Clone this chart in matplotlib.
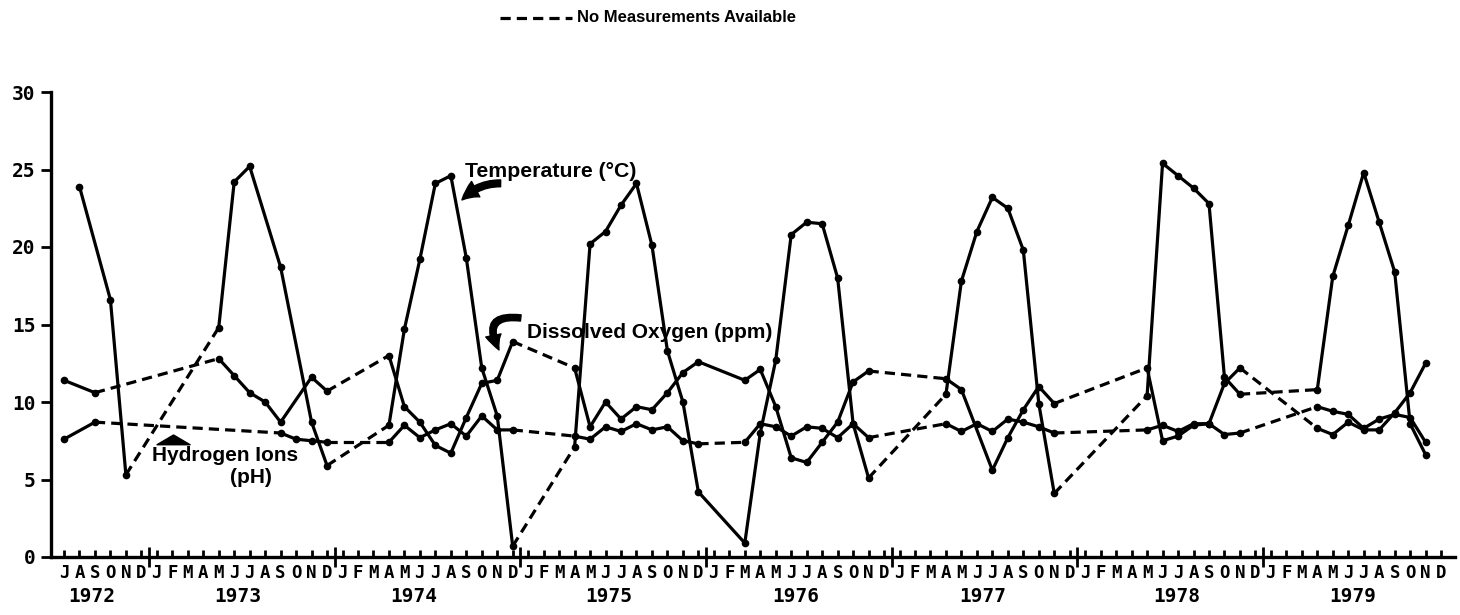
import matplotlib
matplotlib.use("Agg")
import matplotlib.pyplot as plt
from matplotlib.patches import FancyArrowPatch
from matplotlib.lines import Line2D
import matplotlib.transforms as mtransforms

# ---------------- data (month "YYYY-MM", value) ----------------
TEMP_MONTHS = ["1972-08", "1972-10", "1972-11",
               "1973-05", "1973-06", "1973-07", "1973-09", "1973-11", "1973-12",
               "1974-04", "1974-05", "1974-06", "1974-07", "1974-08", "1974-09", "1974-10", "1974-11", "1974-12",
               "1975-04", "1975-05", "1975-06", "1975-07", "1975-08", "1975-09", "1975-10", "1975-11", "1975-12",
               "1976-03", "1976-04", "1976-05", "1976-06", "1976-07", "1976-08", "1976-09", "1976-10", "1976-11",
               "1977-04", "1977-05", "1977-06", "1977-07", "1977-08", "1977-09", "1977-10", "1977-11",
               "1978-05", "1978-06", "1978-07", "1978-08", "1978-09", "1978-10", "1978-11",
               "1979-04", "1979-05", "1979-06", "1979-07", "1979-08", "1979-09", "1979-10", "1979-11"]
TEMP_VALUES = [23.9, 16.6, 5.3,
               14.8, 24.2, 25.2, 18.7, 8.7, 5.9,
               8.5, 14.7, 19.2, 24.1, 24.6, 19.3, 12.2, 9.1, 0.7,
               7.1, 20.2, 21.0, 22.7, 24.1, 20.1, 13.3, 10.0, 4.2,
               0.9, 8.0, 12.7, 20.8, 21.6, 21.5, 18.0, 8.6, 5.1,
               10.5, 17.8, 21.0, 23.2, 22.5, 19.8, 9.9, 4.1,
               10.4, 25.4, 24.6, 23.8, 22.8, 11.6, 10.5,
               10.8, 18.1, 21.4, 24.8, 21.6, 18.4, 8.6, 6.6]
TEMP_DASHED_AFTER = ["1972-11", "1973-12", "1974-12", "1976-11", "1977-11", "1978-11"]

DO_MONTHS = ["1972-07", "1972-09",
             "1973-05", "1973-06", "1973-07", "1973-08", "1973-09", "1973-11", "1973-12",
             "1974-04", "1974-05", "1974-06", "1974-07", "1974-08", "1974-09", "1974-10", "1974-11", "1974-12",
             "1975-04", "1975-05", "1975-06", "1975-07", "1975-08", "1975-09", "1975-10", "1975-11", "1975-12",
             "1976-03", "1976-04", "1976-05", "1976-06", "1976-07", "1976-08", "1976-09", "1976-10", "1976-11",
             "1977-04", "1977-05", "1977-07", "1977-08", "1977-09", "1977-10", "1977-11",
             "1978-05", "1978-06", "1978-07", "1978-08", "1978-09", "1978-10", "1978-11",
             "1979-04", "1979-05", "1979-06", "1979-07", "1979-08", "1979-09", "1979-10", "1979-11"]
DO_VALUES = [11.4, 10.6,
             12.8, 11.7, 10.6, 10.0, 8.7, 11.6, 10.7,
             13.0, 9.7, 8.7, 7.2, 6.7, 9.0, 11.2, 11.4, 13.9,
             12.2, 8.4, 10.0, 8.9, 9.7, 9.5, 10.6, 11.9, 12.6,
             11.4, 12.1, 9.7, 6.4, 6.1, 7.4, 8.7, 11.3, 12.0,
             11.5, 10.8, 5.6, 7.7, 9.5, 11.0, 9.9,
             12.2, 7.5, 7.8, 8.5, 8.6, 11.2, 12.2,
             8.3, 7.9, 8.7, 8.2, 8.2, 9.3, 10.6, 12.5]
DO_DASHED_AFTER = ["1972-09", "1973-12", "1974-12", "1976-11", "1977-11", "1978-11"]

PH_MONTHS = ["1972-07", "1972-09",
             "1973-09", "1973-10", "1973-11", "1973-12",
             "1974-04", "1974-05", "1974-06", "1974-07", "1974-08", "1974-09", "1974-10", "1974-11", "1974-12",
             "1975-04", "1975-05", "1975-06", "1975-07", "1975-08", "1975-09", "1975-10", "1975-11", "1975-12",
             "1976-03", "1976-04", "1976-05", "1976-06", "1976-07", "1976-08", "1976-09", "1976-10", "1976-11",
             "1977-04", "1977-05", "1977-06", "1977-07", "1977-08", "1977-09", "1977-10", "1977-11",
             "1978-05", "1978-06", "1978-07", "1978-08", "1978-09", "1978-10", "1978-11",
             "1979-04", "1979-05", "1979-06", "1979-07", "1979-08", "1979-09", "1979-10", "1979-11"]
PH_VALUES = [7.6, 8.7,
             8.0, 7.6, 7.5, 7.4,
             7.4, 8.5, 7.7, 8.2, 8.6, 7.8, 9.1, 8.2, 8.2,
             7.8, 7.6, 8.4, 8.1, 8.6, 8.2, 8.4, 7.5, 7.3,
             7.4, 8.6, 8.4, 7.8, 8.4, 8.3, 7.7, 8.6, 7.7,
             8.6, 8.1, 8.6, 8.1, 8.9, 8.7, 8.4, 8.0,
             8.2, 8.5, 8.1, 8.6, 8.6, 7.9, 8.0,
             9.7, 9.4, 9.2, 8.3, 8.9, 9.2, 9.0, 7.4]
PH_DASHED_AFTER = ["1972-09", "1973-12", "1974-12", "1975-12", "1976-11", "1977-11", "1978-11"]

MONTH_LETTERS = ["J", "A", "S", "O", "N", "D"] + ["J", "F", "M", "A", "M", "J", "J", "A", "S", "O", "N", "D"] * 7
YEAR_LABELS = ["1972", "1973", "1974", "1975", "1976", "1977", "1978", "1979"]
YEAR_LABEL_POS = [1.8, 11.25, 22.6, 35.2, 47.3, 59.4, 71.9, 83.3]
Y_TICKS = [0, 5, 10, 15, 20, 25, 30]


def midx(s):
    y, m = map(int, s.split("-"))
    return (y - 1972) * 12 + (m - 7)


W, H = 1460, 615
fig = plt.figure(figsize=(W / 100, H / 100), dpi=100)
ax = fig.add_axes([51 / W, 58 / H, (1455 - 51) / W, (557 - 92) / H])

LW = 2.3
DASH = (0, (3.2, 1.9))


def draw_series(months, values, dashed_after):
    xs = [midx(m) for m in months]
    dset = set(dashed_after)
    run_x, run_y = [xs[0]], [values[0]]
    for i in range(1, len(xs)):
        if months[i - 1] in dset:
            if len(run_x) > 1:
                ax.plot(run_x, run_y, color="black", lw=LW, solid_joinstyle="round", zorder=3)
            ax.plot([xs[i - 1], xs[i]], [values[i - 1], values[i]], color="black",
                    lw=LW, linestyle=DASH, zorder=3)
            run_x, run_y = [xs[i]], [values[i]]
        else:
            run_x.append(xs[i])
            run_y.append(values[i])
    if len(run_x) > 1:
        ax.plot(run_x, run_y, color="black", lw=LW, solid_joinstyle="round", zorder=3)
    ax.plot(xs, values, "o", color="black", ms=4.5, zorder=4)


draw_series(TEMP_MONTHS, TEMP_VALUES, TEMP_DASHED_AFTER)
draw_series(DO_MONTHS, DO_VALUES, DO_DASHED_AFTER)
draw_series(PH_MONTHS, PH_VALUES, PH_DASHED_AFTER)

ax.set_xlim(-0.84, 89.9)
ax.set_ylim(0, 30)
for s in ["top", "right"]:
    ax.spines[s].set_visible(False)
ax.spines["left"].set_linewidth(2.4)
ax.spines["bottom"].set_linewidth(2.4)

mono = "DejaVu Sans Mono"
ax.set_xticks(range(len(MONTH_LETTERS)))
ax.set_xticklabels(MONTH_LETTERS, fontfamily=mono, fontweight="bold", fontsize=12.5)
ax.tick_params(axis="x", which="major", direction="in", length=5, width=2.0, pad=5)
ax.set_xticks([5.5 + 12 * k for k in range(7)], minor=True)
ax.tick_params(axis="x", which="minor", direction="inout", length=15, width=2.0)

ax.set_yticks(Y_TICKS)
ax.set_yticklabels([str(t) for t in Y_TICKS], fontfamily=mono, fontweight="bold", fontsize=14)
ax.tick_params(axis="y", direction="out", length=7, width=2.0, pad=4)

trans = mtransforms.blended_transform_factory(ax.transData, ax.transAxes)
for lab, pos in zip(YEAR_LABELS, YEAR_LABEL_POS):
    ax.text(pos, -0.086, lab, transform=trans, ha="center", va="center",
            fontfamily=mono, fontweight="bold", fontsize=14)

sans = "Liberation Sans"
ax.text(25.9, 24.85, "Temperature (\u00b0C)", fontfamily=sans, fontweight="bold", fontsize=15.3,
        ha="left", va="center", zorder=5)
ax.add_patch(FancyArrowPatch((28.4, 24.1), (25.6, 22.9), connectionstyle="arc3,rad=0.25",
                             arrowstyle="simple,head_width=0.9,head_length=0.9,tail_width=0.35",
                             mutation_scale=14, color="black", zorder=5))

ax.text(29.95, 14.5, "Dissolved Oxygen (ppm)", fontfamily=sans, fontweight="bold", fontsize=15,
        ha="left", va="center", zorder=5)
ax.add_patch(FancyArrowPatch((29.7, 15.4), (28.2, 13.2), connectionstyle="arc3,rad=1.0",
                             arrowstyle="simple,head_width=0.8,head_length=0.8,tail_width=0.32",
                             mutation_scale=14, color="black", zorder=5))

ax.text(5.7, 6.55, "Hydrogen Ions", fontfamily=sans, fontweight="bold", fontsize=15,
        ha="left", va="center", zorder=5)
ax.text(12.1, 5.1, "(pH)", fontfamily=sans, fontweight="bold", fontsize=15,
        ha="center", va="center", zorder=5)
ax.add_patch(FancyArrowPatch((7.08, 7.3), (7.08, 8.05),
                             arrowstyle="simple,head_width=1.7,head_length=0.5,tail_width=0.9",
                             mutation_scale=14, color="black", zorder=5))

# top key
fig.add_artist(Line2D([500 / W, 572 / W], [1 - 18 / H, 1 - 18 / H], color="black", lw=LW, linestyle=DASH))
fig.text(577 / W, 1 - 18 / H, "No Measurements Available", fontfamily=sans, fontweight="bold",
         fontsize=12, ha="left", va="center")

fig.savefig("out.png", dpi=100)
